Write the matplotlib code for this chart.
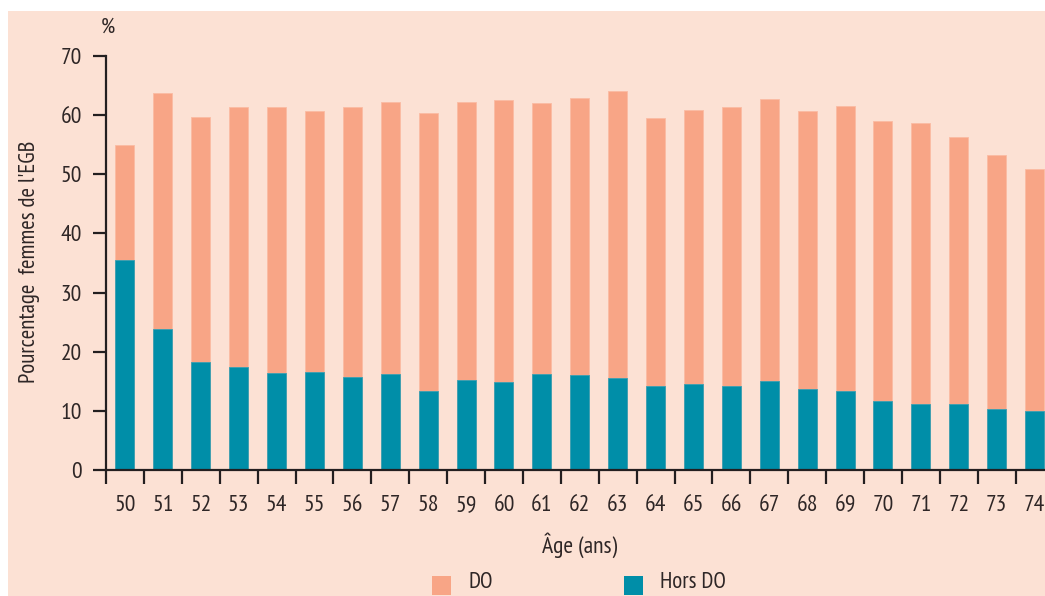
import matplotlib
matplotlib.use("Agg")
import matplotlib.pyplot as plt
from matplotlib.patches import Rectangle
import numpy as np

ages = [str(a) for a in range(50, 75)]
total = [54.9, 63.8, 59.7, 61.4, 61.4, 60.7, 61.4, 62.2, 60.4, 62.2,
         62.5, 62.0, 62.9, 64.1, 59.5, 60.9, 61.4, 62.7, 60.7, 61.6,
         59.0, 58.6, 56.3, 53.2, 50.9]
hors_do = [35.5, 23.9, 18.2, 17.5, 16.4, 16.6, 15.7, 16.2, 13.4, 15.3,
           14.8, 16.2, 16.0, 15.5, 14.2, 14.6, 14.2, 15.1, 13.7, 13.4,
           11.6, 11.2, 11.2, 10.3, 10.0]
yticks = [0, 10, 20, 30, 40, 50, 60, 70]

BG = "#FCE1D4"
SALMON = "#F8A586"
TEAL = "#008EA8"
TXT = "#2E2626"
FONT = ["PT Sans Narrow", "Fira Sans Condensed", "Roboto Condensed", "Archivo Narrow",
        "Liberation Sans Narrow", "Liberation Sans", "DejaVu Sans"]
plt.rcParams["font.family"] = FONT

W, H = 1045, 596
fig = plt.figure(figsize=(W / 100, H / 100), dpi=100, facecolor="white")
bg = Rectangle((8 / W, 0), 1, 1 - 11 / H, transform=fig.transFigure,
               facecolor=BG, edgecolor="none", zorder=-10)
fig.add_artist(bg)

ax = fig.add_axes([106 / W, (H - 470) / H, 947.5 / W, (470 - 56) / H])
ax.set_facecolor("none")
x = np.arange(len(ages))
ax.bar(x, total, width=0.5, color=SALMON, edgecolor="#FBBBA3", linewidth=0.6, zorder=2)
ax.bar(x, hors_do, width=0.5, color=TEAL, edgecolor="#3AA0B3", linewidth=0.6, zorder=3)

ax.set_xlim(-0.5, len(ages) - 0.5)
ax.set_ylim(0, 70)
for s in ["top", "right"]:
    ax.spines[s].set_visible(False)
for s in ["left", "bottom"]:
    ax.spines[s].set_linewidth(1.6)
    ax.spines[s].set_color("#231F20")
ax.spines["bottom"].set_zorder(4)

ax.set_xticks(np.arange(-0.5, len(ages), 1))
ax.set_xticklabels([])
ax.set_xticks(x, minor=True)
ax.set_xticklabels(ages, minor=True)
ax.tick_params(axis="x", which="major", direction="out", length=10, width=1.6, color="#231F20")
ax.tick_params(axis="x", which="minor", length=0, pad=18, labelsize=17, labelcolor=TXT)
ax.set_yticks(yticks)
ax.set_yticklabels([str(v) for v in yticks])
ax.tick_params(axis="y", direction="out", length=9.5, width=1.6, color="#231F20",
               labelsize=17, labelcolor=TXT, pad=8)

fig.text(30 / W, 1 - 262 / H, "Pourcentage  femmes de l'EGB", rotation=90,
         ha="center", va="center", fontsize=16.5, color=TXT, fontweight="medium")
fig.text(108 / W, 1 - 27 / H, "%", ha="center", va="center", fontsize=16, color=TXT)
fig.text(580 / W, 1 - 545 / H, "Âge (ans)", ha="center", va="center", fontsize=17, color=TXT)

# legend
fig.add_artist(Rectangle((432 / W, 1 - 595 / H), 19 / W, 19 / H, transform=fig.transFigure,
                         facecolor=SALMON, edgecolor="none"))
fig.text(468 / W, 1 - 583 / H, "DO", ha="left", va="center", fontsize=16.5, color=TXT)
fig.add_artist(Rectangle((624 / W, 1 - 595 / H), 19 / W, 19 / H, transform=fig.transFigure,
                         facecolor=TEAL, edgecolor="none"))
fig.text(660 / W, 1 - 583 / H, "Hors DO", ha="left", va="center", fontsize=16.5, color=TXT)

fig.savefig("out.png", dpi=100, facecolor="white")
